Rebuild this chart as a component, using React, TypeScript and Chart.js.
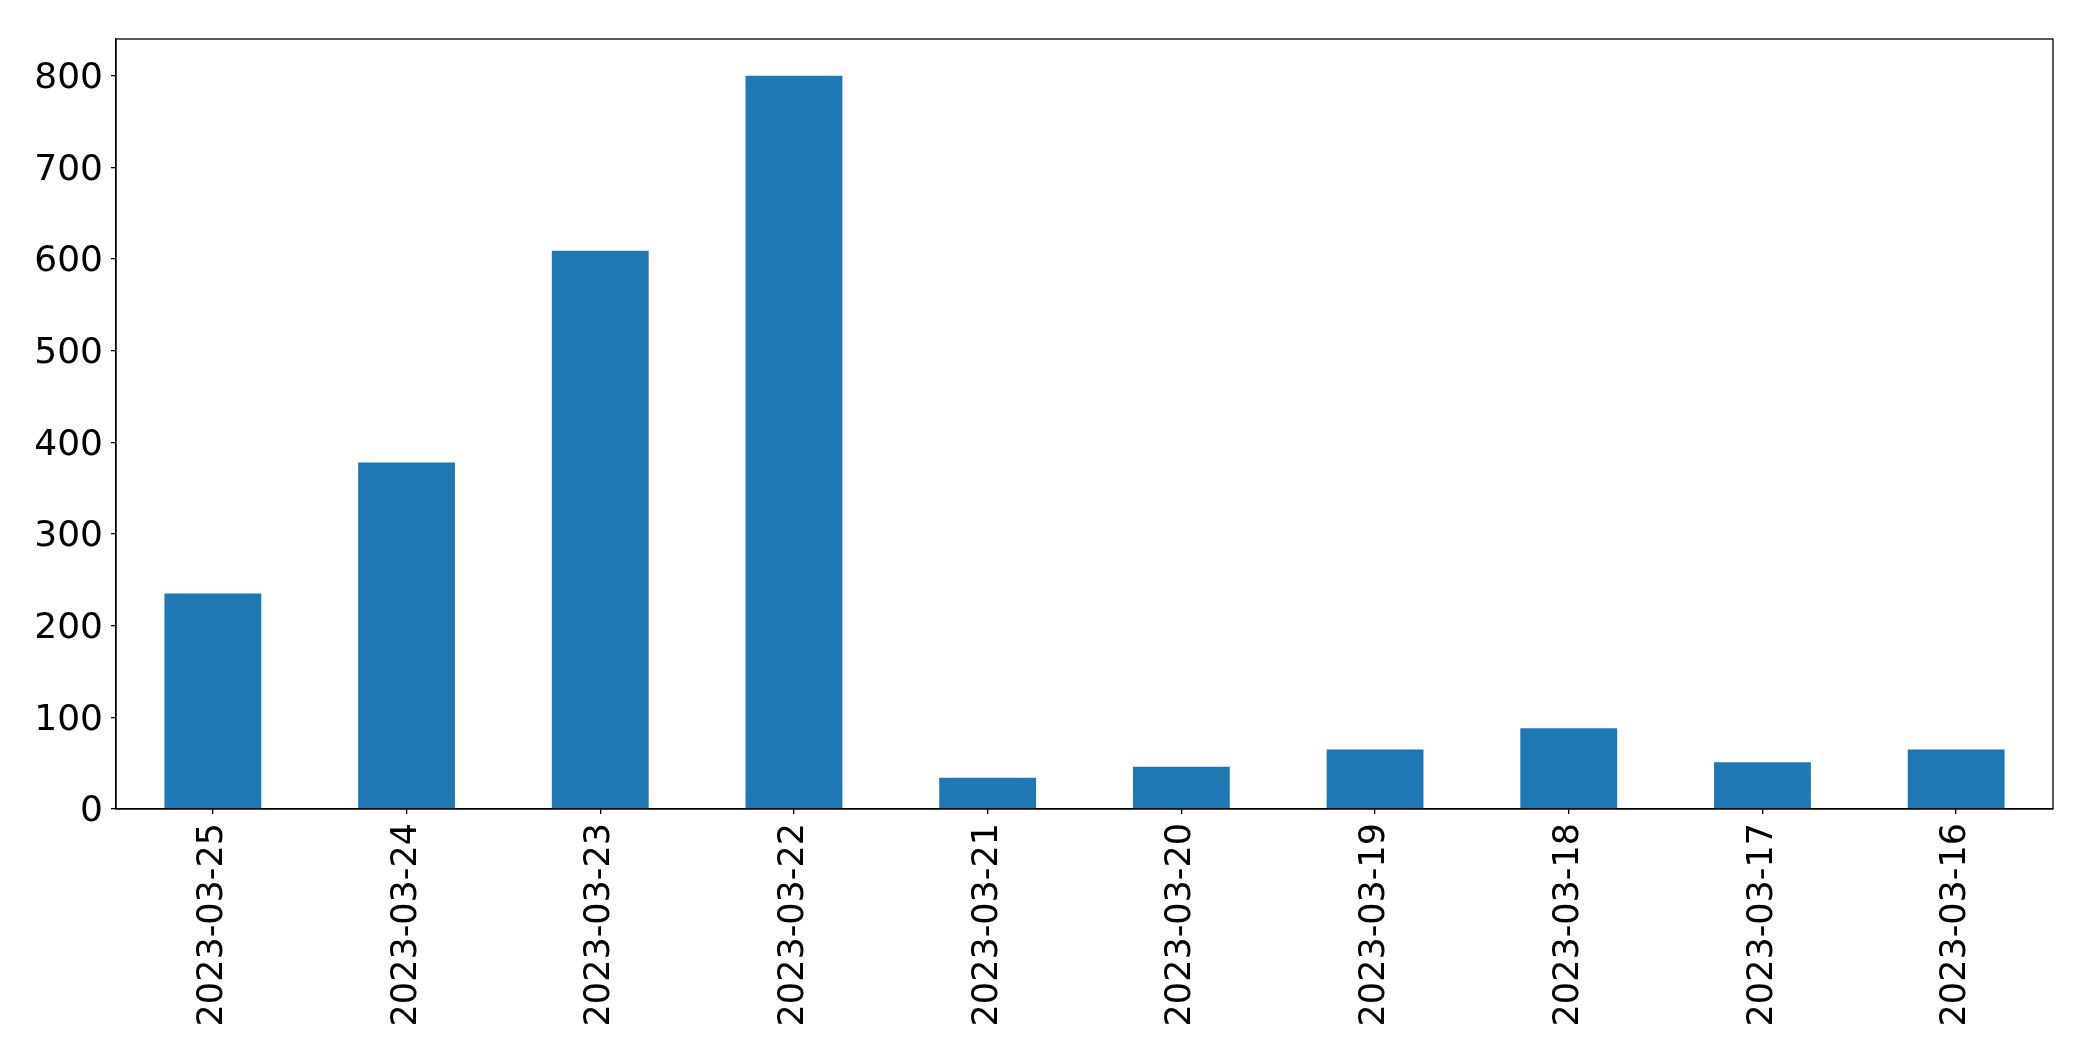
import React, { useEffect, useRef } from "react";
import { Chart, registerables } from "chart.js";

Chart.register(...registerables);

const categories = [
  "2023-03-25",
  "2023-03-24",
  "2023-03-23",
  "2023-03-22",
  "2023-03-21",
  "2023-03-20",
  "2023-03-19",
  "2023-03-18",
  "2023-03-17",
  "2023-03-16",
];
const counts = [235, 378, 609, 800, 34, 46, 65, 88, 51, 65];
const yTicks = [0, 100, 200, 300, 400, 500, 600, 700, 800];

const W = 2093;
const H = 1061;

const framePlugin = {
  id: "frame",
  afterDraw(chart: any) {
    const { ctx, chartArea } = chart;
    ctx.save();
    ctx.strokeStyle = "#000";
    ctx.lineWidth = 1.3;
    ctx.strokeRect(chartArea.left, chartArea.top, chartArea.right - chartArea.left, chartArea.bottom - chartArea.top);
    ctx.restore();
  },
};

export default function App() {
  const ref = useRef<HTMLCanvasElement | null>(null);
  useEffect(() => {
    document.body.style.margin = "0";
    const canvas = ref.current!;
    const font = { family: "'DejaVu Sans', sans-serif", size: 35 };
    const chart = new Chart(canvas, {
      type: "bar",
      data: {
        labels: categories,
        datasets: [
          {
            data: counts,
            backgroundColor: "#1f77b4",
            borderWidth: 0,
            categoryPercentage: 1,
            barPercentage: 0.5,
          },
        ],
      },
      options: {
        animation: false,
        responsive: false,
        devicePixelRatio: 1,
        layout: { padding: { top: 39, right: 40, left: 0, bottom: 0 } },
        plugins: { legend: { display: false }, tooltip: { enabled: false } },
        scales: {
          x: {
            grid: { offset: false, drawOnChartArea: false, drawTicks: true, tickLength: 5, color: "#000", lineWidth: 1.3 },
            border: { display: true, color: "#000", width: 1.3 },
            ticks: { color: "#000", font, minRotation: 90, maxRotation: 90, padding: 9, autoSkip: false },
            afterFit(scale: any) {
              scale.height = H - 809;
            },
          },
          y: {
            min: 0,
            max: 840,
            afterBuildTicks(scale: any) {
              scale.ticks = yTicks.map((v) => ({ value: v }));
            },
            grid: { drawOnChartArea: false, drawTicks: true, tickLength: 5, color: "#000", lineWidth: 1.3 },
            border: { display: true, color: "#000", width: 1.3 },
            ticks: { color: "#000", font: { family: "'DejaVu Sans', sans-serif", size: 36 }, padding: 8, labelOffset: 3 },
            afterFit(scale: any) {
              scale.width = 116;
            },
          },
        },
      },
      plugins: [framePlugin],
    });
    return () => chart.destroy();
  }, []);
  return <canvas ref={ref} width={W} height={H} style={{ display: "block", width: W, height: H }} />;
}
